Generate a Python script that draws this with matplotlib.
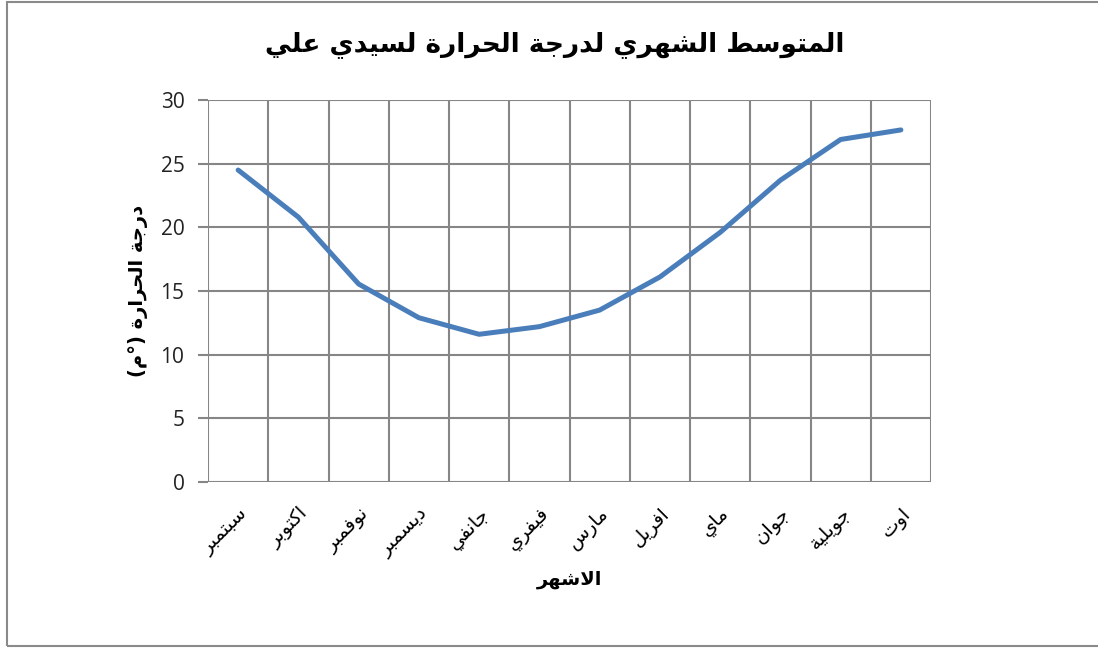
import matplotlib
matplotlib.use('Agg')
import matplotlib.pyplot as plt
from matplotlib.patches import Rectangle

# months as in the source workbook (sept -> aug)
months = ['سبتمبر', 'اكتوبر', 'نوفمبر', 'ديسمبر', 'جانفي', 'فيفري',
          'مارس', 'افريل', 'ماي', 'جوان', 'جويلية', 'اوت']
temps = [24.5, 20.8, 15.55, 12.9, 11.6, 12.2, 13.5, 16.1, 19.6, 23.7, 26.9, 27.65]
yticks = [0, 5, 10, 15, 20, 25, 30]

title = 'المتوسط الشهري لدرجة الحرارة لسيدي علي'
xlab = 'الاشهر'
ylab = 'درجة الحرارة (°م)'

# matplotlib has no arabic shaping, so map to presentation forms by hand
# (isolated, final, initial, medial); None -> letter does not join forward
FORMS = {
    'ا': ('\uFE8D', '\uFE8E', None, None),
    'ب': ('\uFE8F', '\uFE90', '\uFE91', '\uFE92'),
    'ة': ('\uFE93', '\uFE94', None, None),
    'ت': ('\uFE95', '\uFE96', '\uFE97', '\uFE98'),
    'ج': ('\uFE9D', '\uFE9E', '\uFE9F', '\uFEA0'),
    'ح': ('\uFEA1', '\uFEA2', '\uFEA3', '\uFEA4'),
    'د': ('\uFEA9', '\uFEAA', None, None),
    'ر': ('\uFEAD', '\uFEAE', None, None),
    'س': ('\uFEB1', '\uFEB2', '\uFEB3', '\uFEB4'),
    'ش': ('\uFEB5', '\uFEB6', '\uFEB7', '\uFEB8'),
    'ط': ('\uFEC1', '\uFEC2', '\uFEC3', '\uFEC4'),
    'ع': ('\uFEC9', '\uFECA', '\uFECB', '\uFECC'),
    'ف': ('\uFED1', '\uFED2', '\uFED3', '\uFED4'),
    'ك': ('\uFED9', '\uFEDA', '\uFEDB', '\uFEDC'),
    'ل': ('\uFEDD', '\uFEDE', '\uFEDF', '\uFEE0'),
    'م': ('\uFEE1', '\uFEE2', '\uFEE3', '\uFEE4'),
    'ن': ('\uFEE5', '\uFEE6', '\uFEE7', '\uFEE8'),
    'ه': ('\uFEE9', '\uFEEA', '\uFEEB', '\uFEEC'),
    'و': ('\uFEED', '\uFEEE', None, None),
    'ي': ('\uFEF1', '\uFEF2', '\uFEF3', '\uFEF4'),
}


def shape(txt):
    out = []
    i = 0
    n = len(txt)
    while i < n:
        c = txt[i]
        if c not in FORMS:
            out.append(c)
            i += 1
            continue
        prev = txt[i - 1] if i > 0 else ''
        joins_prev = prev in FORMS and FORMS[prev][2] is not None
        # lam-alef ligature
        if c == 'ل' and i + 1 < n and txt[i + 1] == 'ا':
            out.append('\uFEFC' if joins_prev else '\uFEFB')
            i += 2
            continue
        nxt = txt[i + 1] if i + 1 < n else ''
        joins_next = FORMS[c][2] is not None and nxt in FORMS
        iso, fin, ini, med = FORMS[c]
        if joins_prev and joins_next:
            out.append(med)
        elif joins_prev:
            out.append(fin)
        elif joins_next:
            out.append(ini)
        else:
            out.append(iso)
        i += 1
    s = ''.join(out)[::-1]
    return s.translate(str.maketrans('()', ')('))


plt.rcParams['font.family'] = ['DejaVu Sans']

fig = plt.figure(figsize=(10.98, 6.48), dpi=100)
ax = fig.add_axes([208 / 1098, 1 - 482 / 648, 723 / 1098, 382 / 648])

x = list(range(len(months)))
ax.plot(x, temps, color='#4a7ebb', lw=3.6, solid_capstyle='round',
        solid_joinstyle='round', zorder=3)

ax.set_xlim(-0.5, len(months) - 0.5)
ax.set_ylim(0, 30)
ax.set_yticks(yticks)
ax.set_yticklabels([str(t) for t in yticks], fontsize=15, family='Open Sans')

# vertical grid on the category boundaries, like excel
for k in range(len(months) + 1):
    ax.axvline(k - 0.5, color='#868686', lw=1.5, zorder=1)
for t in yticks:
    ax.axhline(t, color='#868686', lw=1.5, zorder=1)

ax.set_xticks(x)
ax.set_xticklabels([shape(m) for m in months], rotation=45, ha='right',
                   va='top', rotation_mode='anchor', fontsize=14)
ax.tick_params(axis='x', length=0, pad=16)
ax.tick_params(axis='y', length=7, color='#868686', width=1.5, pad=10,
               direction='out', labelcolor='#222222')
for s in ax.spines.values():
    s.set_visible(False)

ax.set_xlabel(shape(xlab), fontsize=14, fontweight='bold', labelpad=7)
ax.set_ylabel(shape(ylab), fontsize=14, fontweight='bold', labelpad=9)
fig.text(0.505, 1 - 45 / 648, shape(title), ha='center', va='center',
         fontsize=19, fontweight='bold')

# outer chart frame (right side is cut off in the original)
fig.patches.append(Rectangle((7 / 1098, 2 / 648), 1100 / 1098, 644 / 648,
                             transform=fig.transFigure, fill=False,
                             edgecolor='#8a8a8a', lw=1.5))

fig.savefig('out.png', dpi=100)
